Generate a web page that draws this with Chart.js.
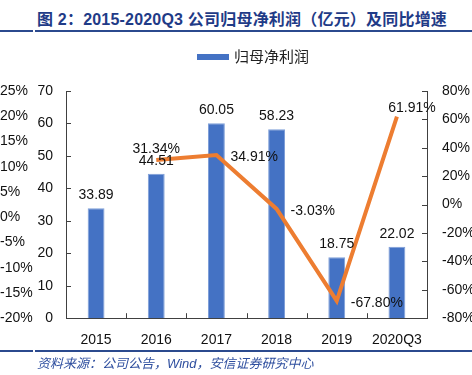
<!DOCTYPE html>
<html>
<head>
<meta charset="utf-8">
<script src="https://cdn.jsdelivr.net/npm/chart.js@4.4.1/dist/chart.umd.min.js"></script>
<style>
  body { margin: 0; background: #fff; }
  #wrap { position: relative; width: 472px; height: 375px; overflow: hidden; }
  #titulo { position: absolute; left: 37px; top: 6px; font: bold 16px "Liberation Sans", "Noto Sans CJK SC", sans-serif; color: #1F3B87; white-space: nowrap; letter-spacing: 0.2px; }
  .linha { position: absolute; height: 1.5px; background: #2B4A8E; }
  #legenda { position: absolute; left: 197px; top: 47px; font: 15px "Noto Sans CJK SC", sans-serif; color: #222; white-space: nowrap; line-height: 18px; }
  #legenda span.caixa { display: inline-block; width: 32px; height: 6px; background: #4472C4; vertical-align: middle; margin-right: 5px; position: relative; top: -1px; }
  #fonte { position: absolute; left: 37px; top: 353px; font: italic 13px "Liberation Sans", "Noto Sans CJK SC", sans-serif; color: #2F4F9F; white-space: nowrap; }
  canvas { position: absolute; left: 0; top: 0; }
</style>
</head>
<body>
<div id="wrap">
  <div id="titulo">图 2：2015-2020Q3 公司归母净利润（亿元）及同比增速</div>
  <div class="linha" style="left:0;width:33px;top:30px"></div>
  <div class="linha" style="left:35px;width:437px;top:30px"></div>
  <canvas id="grafico" width="472" height="375"></canvas>
  <div id="legenda"><span class="caixa"></span>归母净利润</div>
  <div class="linha" style="left:0;width:33px;top:350px"></div>
  <div class="linha" style="left:35px;width:437px;top:350px"></div>
  <div id="fonte">资料来源：公司公告，Wind，安信证券研究中心</div>
</div>
<script>
// dados do gráfico
const anos = ['2015', '2016', '2017', '2018', '2019', '2020Q3'];
const lucro = [33.89, 44.51, 60.05, 58.23, 18.75, 22.02];        // 归母净利润 (亿元)
const crescimento = [null, 31.34, 34.91, -3.03, -67.80, 61.91];  // 同比增速 (%)
const ticksExtra = [-20, -15, -10, -5, 0, 5, 10, 15, 20, 25];    // eixo extra à esquerda

const corBarra = '#4472C4';
const corLinha = '#ED7D31';
const corEixo = '#404040';
const fonteNum = '"Liberation Sans", Arial, sans-serif';

// onde fica o rótulo de cada ponto da linha
const posRotulo = [null, 'top', 'right', 'right', 'right', 'topRight'];

// marcas de escala para dentro
const marcas = {
  id: 'marcas',
  afterDraw(chart) {
    const { ctx, scales: { x, y, y1 } } = chart;
    ctx.save();
    ctx.strokeStyle = corEixo;
    ctx.lineWidth = 1;
    ctx.beginPath();
    y.ticks.forEach(t => {
      const p = Math.round(y.getPixelForValue(t.value)) + 0.5;
      ctx.moveTo(y.right, p); ctx.lineTo(y.right + 5, p);
    });
    y1.ticks.forEach(t => {
      const p = Math.round(y1.getPixelForValue(t.value)) + 0.5;
      ctx.moveTo(y1.left - 5, p); ctx.lineTo(y1.left, p);
    });
    const passo = x.width / anos.length;
    for (let i = 0; i <= anos.length; i++) {
      const p = Math.round(x.left + i * passo) + 0.5;
      ctx.moveTo(p, x.top); ctx.lineTo(p, x.top - 5);
    }
    ctx.stroke();
    ctx.restore();
  }
};

// rótulos de valores
const rotulos = {
  id: 'rotulos',
  afterDatasetsDraw(chart) {
    const { ctx } = chart;
    ctx.save();
    ctx.font = '14px ' + fonteNum;
    ctx.fillStyle = '#111';
    chart.getDatasetMeta(0).data.forEach((bar, i) => {
      ctx.textAlign = 'center';
      ctx.textBaseline = 'bottom';
      ctx.fillText(lucro[i].toFixed(2), bar.x, bar.y - 6);
    });
    chart.getDatasetMeta(1).data.forEach((pt, i) => {
      if (crescimento[i] === null) return;
      const txt = crescimento[i].toFixed(2) + '%';
      const pos = posRotulo[i];
      ctx.textBaseline = 'middle';
      if (pos === 'top') {
        ctx.textAlign = 'center';
        ctx.fillText(txt, pt.x, pt.y - 11);
      } else if (pos === 'right') {
        ctx.textAlign = 'left';
        ctx.fillText(txt, pt.x + 14, pt.y + 2);
      } else {
        ctx.textAlign = 'center';
        ctx.fillText(txt, pt.x + 15, pt.y - 9);
      }
    });
    ctx.restore();
  }
};

Chart.defaults.font.family = fonteNum;
Chart.defaults.font.size = 14;
Chart.defaults.color = '#111';

new Chart(document.getElementById('grafico'), {
  type: 'bar',
  data: {
    labels: anos,
    datasets: [
      {
        label: '归母净利润',
        data: lucro,
        backgroundColor: corBarra,
        borderColor: '#7F9FD8',
        borderWidth: 1,
        barPercentage: 0.28,
        categoryPercentage: 1,
        yAxisID: 'y',
        order: 2
      },
      {
        type: 'line',
        label: '同比增速',
        data: crescimento,
        borderColor: corLinha,
        borderWidth: 4,
        pointRadius: 0,
        tension: 0,
        yAxisID: 'y1',
        order: 1
      }
    ]
  },
  options: {
    responsive: false,
    animation: false,
    layout: { padding: { top: 91, bottom: 12, left: 0, right: 0 } },
    plugins: {
      legend: { display: false },
      tooltip: { enabled: false }
    },
    scales: {
      x: {
        grid: { display: false, drawTicks: false },
        border: { color: corEixo, width: 1 },
        ticks: { padding: 14 }
      },
      y: {
        position: 'left',
        min: 0, max: 70,
        weight: 0,
        ticks: { stepSize: 10, padding: 13 },
        grid: { display: false, drawTicks: false },
        border: { color: corEixo, width: 1 },
        afterFit: s => { s.width = 32; }
      },
      yL: {
        position: 'left',
        min: -20, max: 25,
        weight: 1,
        afterBuildTicks: s => { s.ticks = ticksExtra.map(v => ({ value: v })); },
        ticks: { callback: v => v + '%', crossAlign: 'far', padding: 0 },
        grid: { display: false, drawTicks: false },
        border: { display: false },
        afterFit: s => { s.width = 34; }
      },
      y1: {
        position: 'right',
        min: -80, max: 80,
        ticks: { stepSize: 20, padding: 15, callback: v => v + '%' },
        grid: { display: false, drawTicks: false },
        border: { color: corEixo, width: 1 },
        afterFit: s => { s.width = 45; }
      }
    }
  },
  plugins: [marcas, rotulos]
});
</script>
</body>
</html>
